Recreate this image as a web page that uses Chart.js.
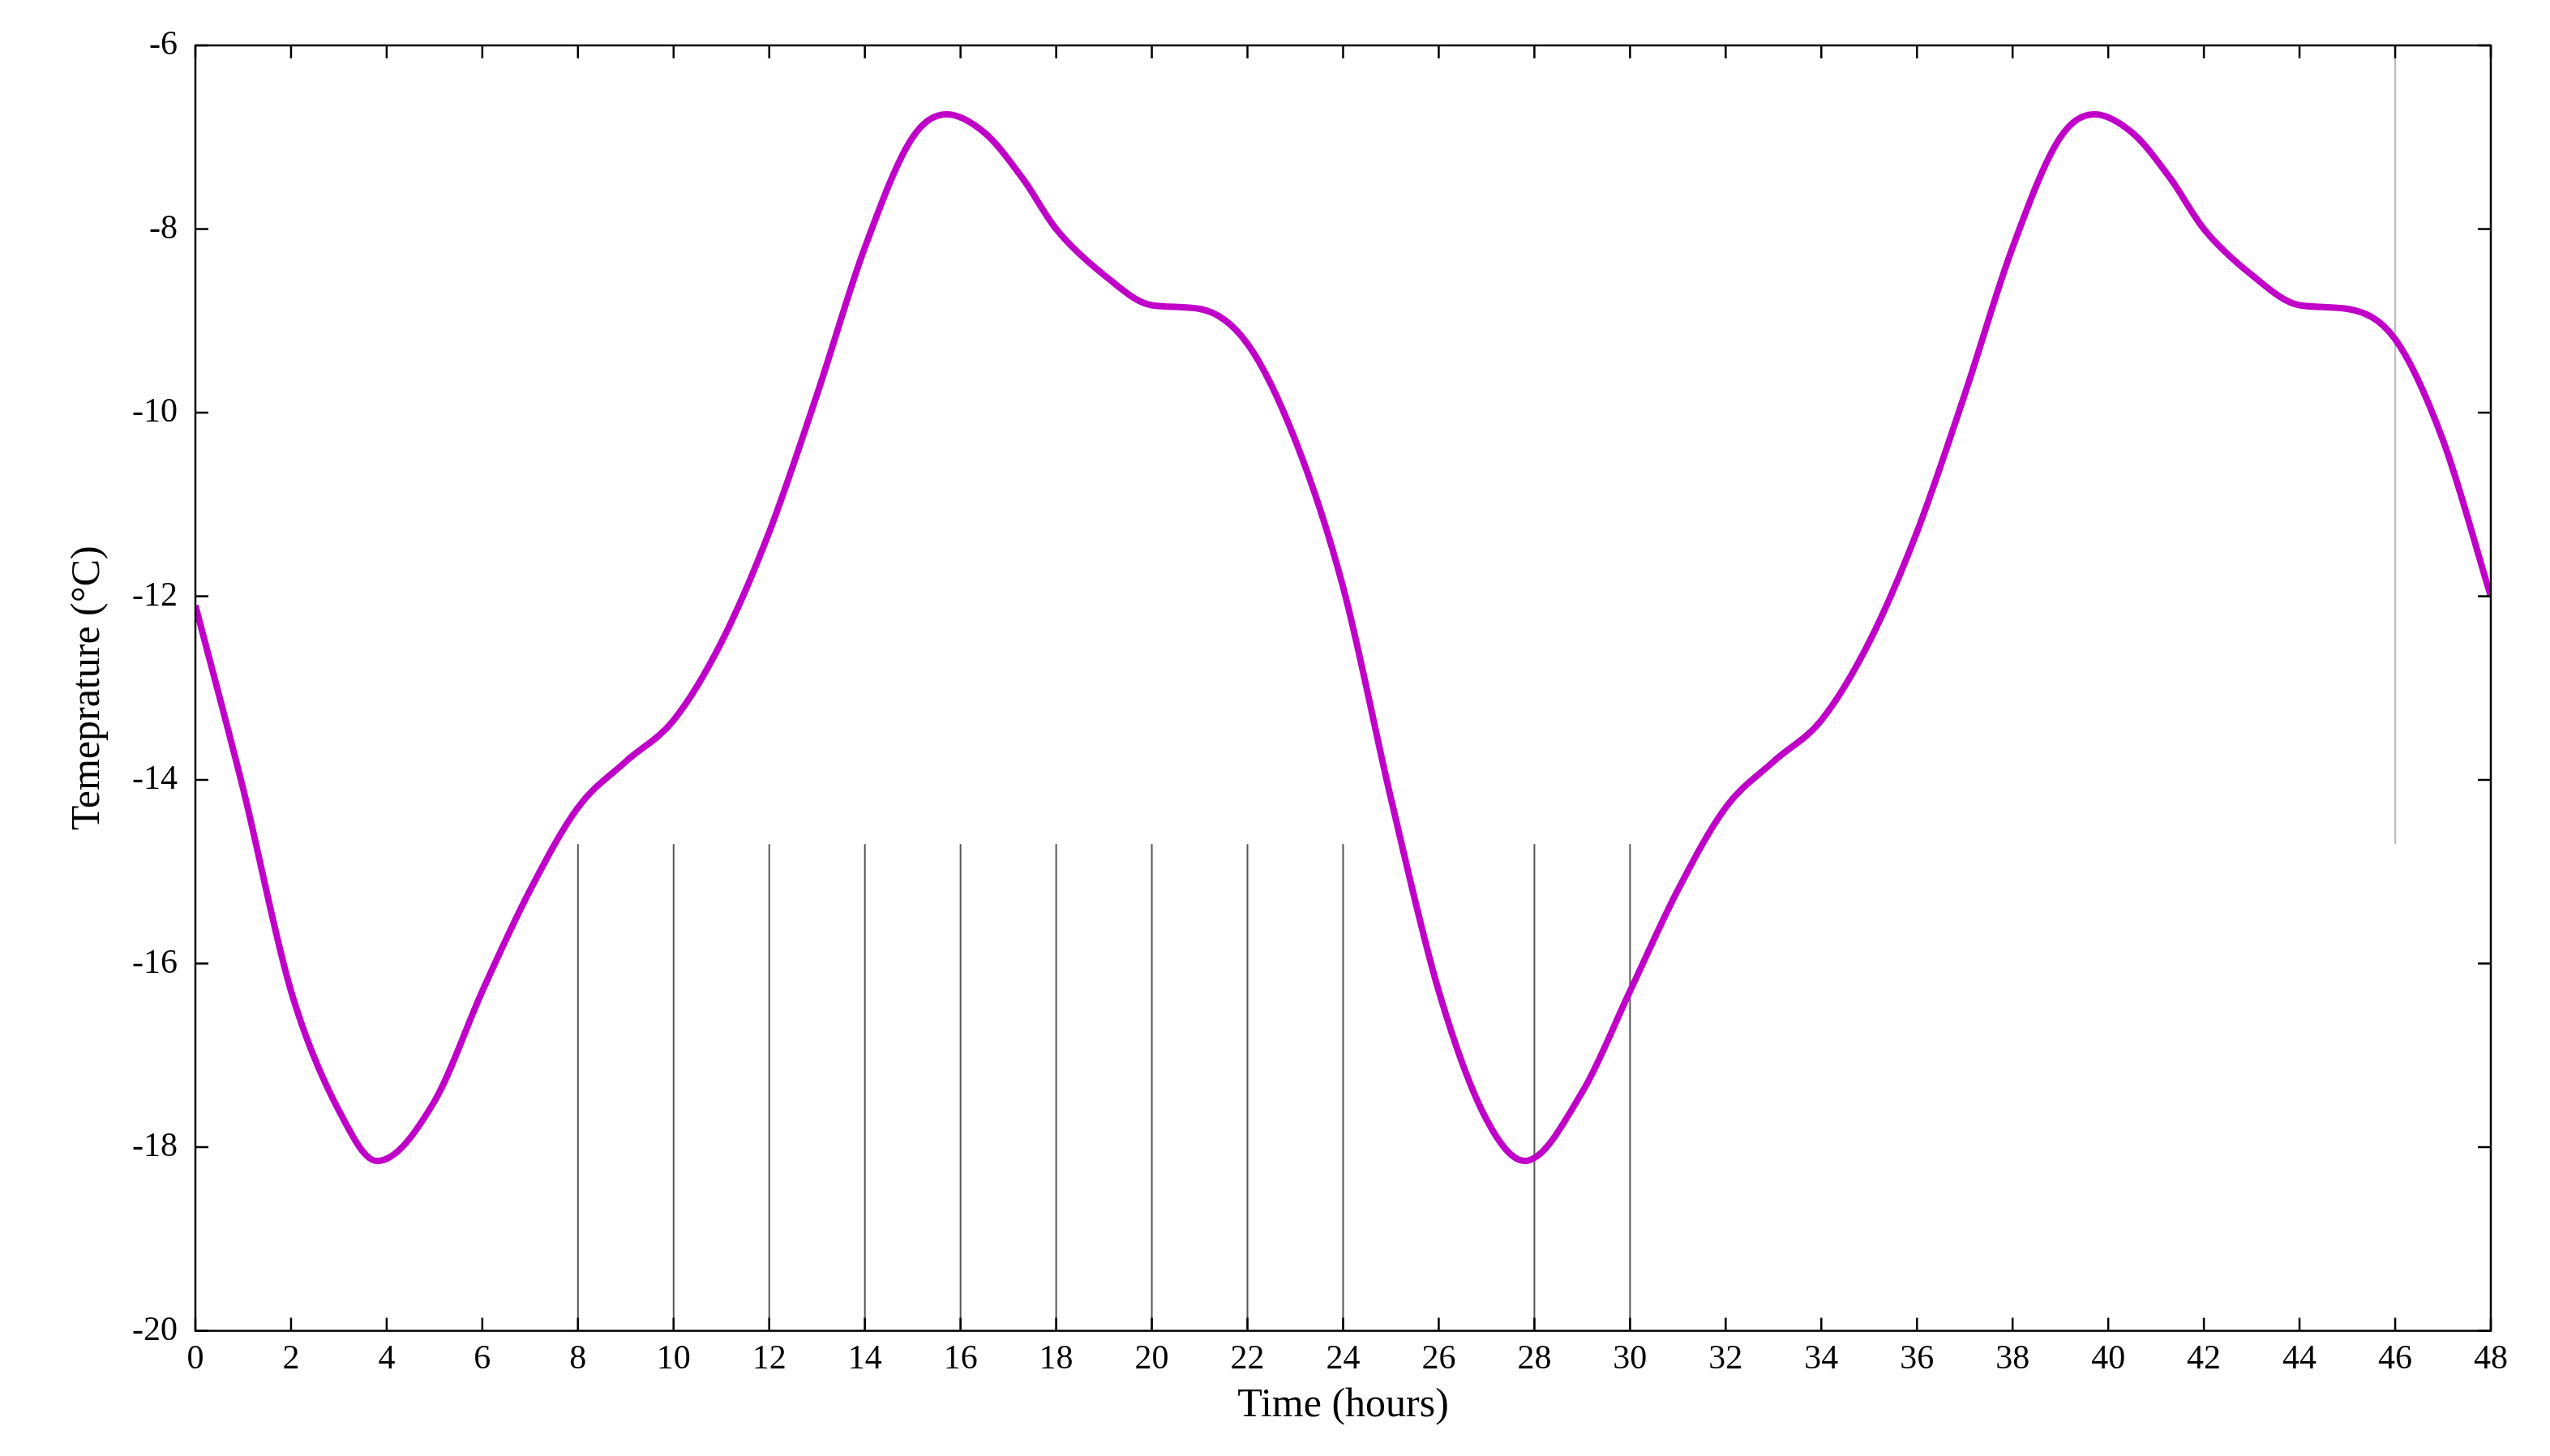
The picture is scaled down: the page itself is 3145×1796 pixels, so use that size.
<!DOCTYPE html>
<html>
<head>
<meta charset="utf-8">
<script src="https://cdn.jsdelivr.net/npm/chart.js@4"></script>
<style>
  html, body { margin: 0; padding: 0; background: #fff; }
  #wrap { width: 3145px; height: 1796px; }
</style>
</head>
<body>
<div id="wrap"><canvas id="c"></canvas></div>
<script>
"use strict";

// temperature curve
const hours = [0, 1, 2, 3, 3.8, 5, 6, 7, 8, 9, 10, 11, 12, 13, 14, 15, 15.7, 16.5, 17.3, 18, 19, 20, 21, 22, 23, 24, 25, 26, 27, 27.8, 29, 30, 31, 32, 33, 34, 35, 36, 37, 38, 39, 39.7, 40.5, 41.3, 42, 43, 44, 45, 46, 47, 48];
const temps = [-12.1, -14.1, -16.3, -17.6, -18.15, -17.5, -16.3, -15.2, -14.3, -13.8, -13.35, -12.5, -11.3, -9.8, -8.2, -7.0, -6.75, -6.95, -7.45, -8.0, -8.5, -8.83, -8.87, -9.25, -10.3, -11.9, -14.2, -16.3, -17.7, -18.15, -17.4, -16.3, -15.2, -14.3, -13.8, -13.35, -12.5, -11.3, -9.8, -8.2, -7.0, -6.75, -6.95, -7.45, -8.0, -8.5, -8.83, -8.87, -9.2, -10.3, -12.0];

// thin vertical marker lines
const markerX = [8, 10, 12, 14, 16, 18, 20, 22, 24, 28, 30];
const markerTop = -14.7;
const lightMarkerX = 46;

const xTicks = { min: 0, max: 48, step: 2 };
const yTicks = { min: -20, max: -6, step: 2 };

const datasets = [{
  data: hours.map((h, i) => ({ x: h, y: temps[i] })),
  borderColor: "#c000c8",
  borderWidth: 8,
  pointRadius: 0,
  fill: false,
  cubicInterpolationMode: "monotone",
  order: 0,
}];

markerX.forEach((x) => {
  datasets.push({
    data: [{ x: x, y: markerTop }, { x: x, y: yTicks.min }],
    borderColor: "#555",
    borderWidth: 2,
    pointRadius: 0,
    order: 1,
  });
});
datasets.push({
  data: [{ x: lightMarkerX, y: yTicks.max }, { x: lightMarkerX, y: markerTop }],
  borderColor: "#bbb",
  borderWidth: 2,
  pointRadius: 0,
  order: 1,
});

// MATLAB-style box with inward ticks on all four sides
const boxPlugin = {
  id: "box",
  afterDatasetsDraw(chart) {
    const { ctx, chartArea: a, scales } = chart;
    const len = 16;
    ctx.save();
    ctx.strokeStyle = "#000";
    ctx.lineWidth = 2.5;
    ctx.strokeRect(a.left, a.top, a.right - a.left, a.bottom - a.top);
    ctx.beginPath();
    for (let v = xTicks.min; v <= xTicks.max; v += xTicks.step) {
      const px = scales.x.getPixelForValue(v);
      ctx.moveTo(px, a.bottom); ctx.lineTo(px, a.bottom - len);
      ctx.moveTo(px, a.top); ctx.lineTo(px, a.top + len);
    }
    for (let v = yTicks.min; v <= yTicks.max; v += yTicks.step) {
      const py = scales.y.getPixelForValue(v);
      ctx.moveTo(a.left, py); ctx.lineTo(a.left + len, py);
      ctx.moveTo(a.right, py); ctx.lineTo(a.right - len, py);
    }
    ctx.stroke();
    ctx.restore();
  },
};

const font = "'Liberation Serif', 'DejaVu Serif', serif";

new Chart(document.getElementById("c"), {
  type: "line",
  data: { datasets: datasets },
  plugins: [boxPlugin],
  options: {
    responsive: true,
    maintainAspectRatio: false,
    animation: false,
    layout: { padding: { top: 56, right: 73, bottom: 28, left: 75 } },
    plugins: { legend: { display: false }, tooltip: { enabled: false } },
    scales: {
      x: {
        type: "linear",
        min: xTicks.min,
        max: xTicks.max,
        ticks: { stepSize: xTicks.step, color: "#000", font: { family: font, size: 42 }, padding: 2 },
        grid: { display: false },
        border: { display: false },
        title: { display: true, text: "Time (hours)", color: "#000", font: { family: font, size: 50 }, padding: { top: 0 } },
      },
      y: {
        min: yTicks.min,
        max: yTicks.max,
        ticks: { stepSize: yTicks.step, color: "#000", font: { family: font, size: 42 }, padding: 14 },
        grid: { display: false },
        border: { display: false },
        title: { display: true, text: "Temeprature (°C)", color: "#000", font: { family: font, size: 50 }, padding: { bottom: 10 } },
      },
    },
  },
});
</script>
</body>
</html>
